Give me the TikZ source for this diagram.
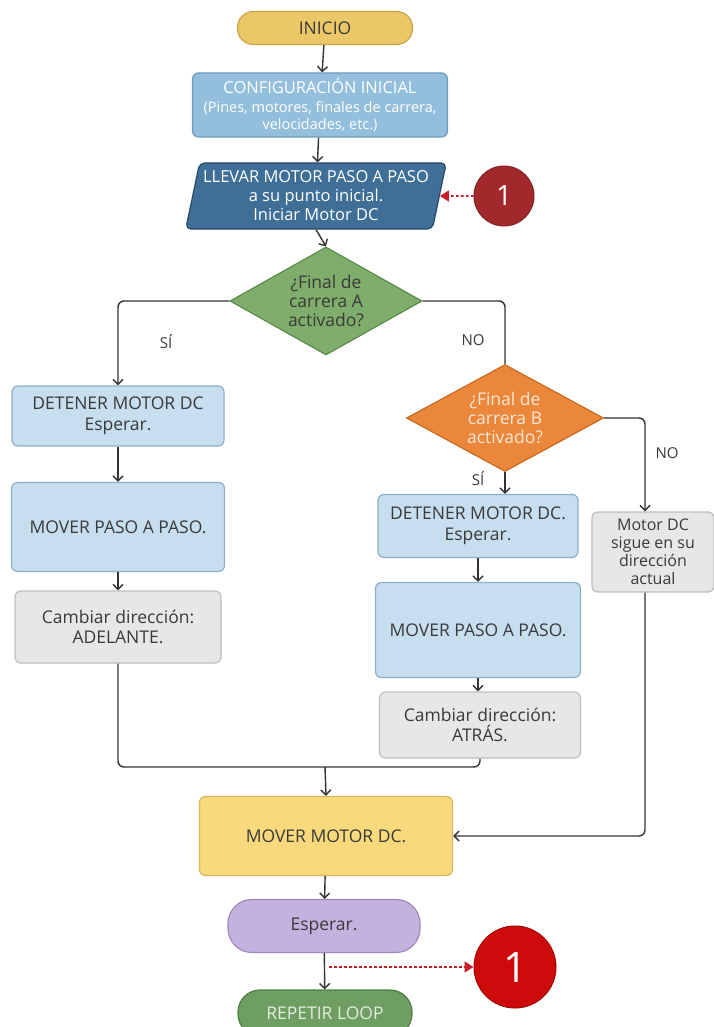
\documentclass[tikz,border=0pt]{standalone}
\usepackage{fontspec}
\setmainfont{Open Sans}
\usetikzlibrary{shapes.geometric,arrows.meta}

\definecolor{linea}{HTML}{333333}
\definecolor{texto}{HTML}{3A3A3A}
\definecolor{oro}{HTML}{ECC768}
\definecolor{orob}{HTML}{C9A345}
\definecolor{celeste}{HTML}{93BFDD}
\definecolor{celesteb}{HTML}{6F9BBE}
\definecolor{azul}{HTML}{3F6F97}
\definecolor{azulb}{HTML}{274B6B}
\definecolor{verde}{HTML}{7EAD6C}
\definecolor{verdeb}{HTML}{5C8A4C}
\definecolor{naranja}{HTML}{EA873B}
\definecolor{naranjab}{HTML}{C86A22}
\definecolor{claro}{HTML}{C7DEEE}
\definecolor{clarob}{HTML}{8DB0C9}
\definecolor{gris}{HTML}{E7E7E7}
\definecolor{grisb}{HTML}{BDBDBD}
\definecolor{amarillo}{HTML}{F8D97C}
\definecolor{amarillob}{HTML}{D8B75C}
\definecolor{lila}{HTML}{C5B1DD}
\definecolor{lilab}{HTML}{9F89BE}
\definecolor{musgo}{HTML}{6E9E61}
\definecolor{musgob}{HTML}{4F7E45}
\definecolor{granate}{HTML}{A2292B}
\definecolor{rojo}{HTML}{CC0A0A}
\definecolor{punteado}{HTML}{C8202A}

\begin{document}
\begin{tikzpicture}[x=1pt,y=-1pt,
		caja/.style={rectangle,rounded corners=6pt,line width=1.2pt,align=center,inner sep=0pt,
			text=texto,font=\fontsize{17.5}{20.5}\selectfont},
		pildora/.style={caja,rounded corners=16pt},
		decision/.style={diamond,aspect=1.78,line width=1.2pt,align=center,inner sep=0pt,
			font=\fontsize{17.5}{19}\selectfont},
		conector/.style={circle,inner sep=0pt,line width=1pt,text=white},
		etiqueta/.style={text=texto,font=\fontsize{15}{17}\selectfont},
		flecha/.style={draw=linea,line width=1.4pt,rounded corners=6pt,
			-{Straight Barb[length=5pt,width=10pt]}},
		linea/.style={draw=linea,line width=1.4pt,rounded corners=6pt},
		salto/.style={draw=punteado,line width=1.8pt,dash pattern=on 2.5pt off 2.5pt,
			-{Triangle[length=9pt,width=11pt]}}
	]
	\fill[white] (0,0) rectangle (714,1027);
	\useasboundingbox (0,0) rectangle (714,1027);
	
	% columna central
	\node[pildora,fill=oro,draw=orob,minimum width=175pt,minimum height=33pt] (inicio) at (325,28) {INICIO};
	\node[caja,fill=celeste,draw=celesteb,text=white,minimum width=255pt,minimum height=64pt] (config) at (320,105)
		{{\fontsize{16.5}{18}\selectfont CONFIGURACIÓN INICIAL}\\[-2pt]{\fontsize{14.5}{17}\selectfont (Pines, motores, finales de carrera,}\\[-3pt]{\fontsize{14.5}{17}\selectfont velocidades, etc.)}};
	\node[trapezium,trapezium left angle=75,trapezium right angle=105,trapezium stretches=true,
		rounded corners=5pt,line width=1.2pt,fill=azul,draw=azulb,text=white,align=center,inner sep=0pt,
		font=\fontsize{16.5}{19}\selectfont,minimum width=261pt,minimum height=66pt] (llevar) at (316,196)
		{LLEVAR MOTOR PASO A PASO\\a su punto inicial.\\Iniciar Motor DC};
	\node[conector,fill=granate,draw=granate!80!black,minimum size=60pt,font=\fontsize{28}{28}\selectfont] (unoA) at (504,196) {1};
	\node[decision,fill=verde,draw=verdeb,text=texto,minimum width=192pt,minimum height=108pt] (finA) at (326,301)
		{¿Final de\\carrera A\\activado?};
	\node[decision,fill=naranja,draw=naranjab,text=naranja!20,minimum width=197pt,minimum height=107pt] (finB) at (505,418)
		{¿Final de\\carrera B\\activado?};
	
	% rama SÍ de A
	\node[caja,fill=claro,draw=clarob,minimum width=212pt,minimum height=60pt] (detA) at (118,416) {DETENER MOTOR DC\\Esperar.};
	\node[caja,fill=claro,draw=clarob,minimum width=213pt,minimum height=89pt] (movA) at (118,527) {MOVER PASO A PASO.};
	\node[caja,fill=gris,draw=grisb,minimum width=206pt,minimum height=72pt] (cambA) at (118,627) {Cambiar dirección:\\ADELANTE.};
	
	% rama SÍ de B
	\node[caja,fill=claro,draw=clarob,minimum width=200pt,minimum height=63pt] (detB) at (478,526) {DETENER MOTOR DC.\\Esperar.};
	\node[caja,fill=claro,draw=clarob,minimum width=205pt,minimum height=95pt] (movB) at (478,630) {MOVER PASO A PASO.};
	\node[caja,fill=gris,draw=grisb,minimum width=201pt,minimum height=66pt] (cambB) at (480,725) {Cambiar dirección:\\ATRÁS.};
	
	% rama NO de B
	\node[caja,fill=gris,draw=grisb,minimum width=122pt,minimum height=80pt,font=\fontsize{16}{18}\selectfont] (sigue) at (653,552)
		{Motor DC\\sigue en su\\dirección\\actual};
	
	% final
	\node[caja,fill=amarillo,draw=amarillob,minimum width=253pt,minimum height=79pt] (motor) at (326,836) {MOVER MOTOR DC.};
	\node[pildora,fill=lila,draw=lilab,minimum width=192pt,minimum height=53pt,rounded corners=24pt] (esperar) at (324,926) {Esperar.};
	\node[pildora,fill=musgo,draw=musgob,text=musgo!20,minimum width=174pt,minimum height=46pt,rounded corners=22pt] (repetir) at (325,1013) {REPETIR LOOP};
	\node[conector,fill=rojo,draw=rojo!80!black,minimum size=82pt,font=\fontsize{42}{42}\selectfont] (unoB) at (515,967) {1};
	
	% etiquetas
	\node[etiqueta] (siA) at (166,342) {SÍ};
	\node[etiqueta] (noA) at (473,340) {NO};
	\node[etiqueta] (siB) at (478,479) {SÍ};
	\node[etiqueta] (noB) at (667,453) {NO};
	
	\coordinate (union) at (325,767);
	\coordinate (paso) at (325,967);
	
	% conexiones
	\draw[flecha] (inicio) -- (config);
	\draw[flecha] (config) -- (llevar);
	\draw[flecha] (llevar.south) -- (finA.north);
	\draw[flecha] (finA.west) -| (detA.north);
	\draw[linea] (finA.east) -| (finB.north);
	\draw[flecha] (finB.south) -- (finB.south |- detB.north);
	\draw[flecha] (finB.east) -| ([xshift=-8pt]sigue.north);
	\draw[flecha] (detA) -- (movA);
	\draw[flecha] (movA) -- (cambA);
	\draw[flecha] (detB) -- (movB);
	\draw[flecha] (movB) -- (movB |- cambB.north);
	\draw[linea] (cambA.south) |- (union);
	\draw[linea] (cambB.south) |- (union);
	\draw[flecha] (union) -- (motor.north);
	\draw[flecha] ([xshift=-8pt]sigue.south) |- (motor.east);
	\draw[flecha] (motor) -- (esperar);
	\draw[flecha] (esperar) -- (repetir);
	\draw[salto] (unoA.west) -- (llevar.east);
	\draw[salto] ([xshift=4pt]paso) -- (unoB.west);
\end{tikzpicture}
\end{document}
